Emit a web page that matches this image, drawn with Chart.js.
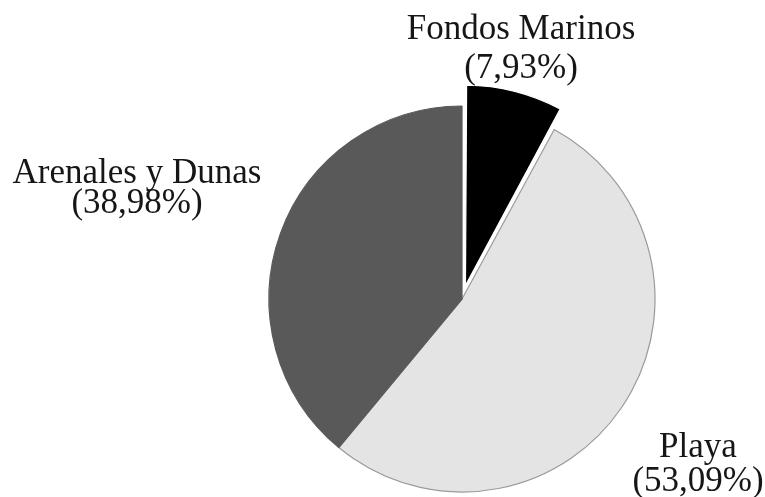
<!DOCTYPE html>
<html>
<head>
<meta charset="utf-8">
<script src="https://cdn.jsdelivr.net/npm/chart.js@4.4.0/dist/chart.umd.min.js"></script>
<style>
  html, body { margin: 0; padding: 0; background: #ffffff; }
  #wrap { width: 765px; height: 497px; position: relative; }
</style>
</head>
<body>
<div id="wrap"><canvas id="c" width="765" height="497"></canvas></div>
<script>
const categories = ["Fondos Marinos", "Playa", "Arenales y Dunas"];
const values = [7.93, 53.09, 38.98];
const sliceColors = ["#000000", "#e4e4e4", "#595959"];
const borderColors = ["#ffffff", "#9a9a9a", "#595959"];
// Chart.js v4 moves an arc by offset/4 pixels
const sliceOffsets = [56, 0, 0];

// label anchor (centre x, baseline of first line, baseline of second line), in px
const labelPos = [
  { x: 521, y1: 39, y2: 78 },
  { x: 698, y1: 457, y2: 491 },
  { x: 137, y1: 183, y2: 213 }
];

const fmt = v => "(" + v.toFixed(2).replace(".", ",") + "%)";

const labelPlugin = {
  id: "pieLabels",
  afterDraw(chart) {
    const ctx = chart.ctx;
    ctx.save();
    ctx.fillStyle = "#161616";
    ctx.font = "35px 'Liberation Serif', 'Times New Roman', serif";
    ctx.textAlign = "center";
    ctx.textBaseline = "alphabetic";
    categories.forEach((name, i) => {
      const p = labelPos[i];
      ctx.fillText(name, p.x, p.y1);
      ctx.fillText(fmt(values[i]), p.x, p.y2);
    });
    ctx.restore();
  }
};

new Chart(document.getElementById("c"), {
  type: "pie",
  data: {
    labels: categories,
    datasets: [{
      data: values,
      backgroundColor: sliceColors,
      borderColor: borderColors,
      borderWidth: 1.2,
      offset: sliceOffsets,
      radius: 193
    }]
  },
  options: {
    responsive: false,
    animation: false,
    devicePixelRatio: 1,
    layout: { padding: { left: 159, right: 0, top: 101, bottom: 0 } },
    plugins: {
      legend: { display: false },
      tooltip: { enabled: false }
    }
  },
  plugins: [labelPlugin]
});
</script>
</body>
</html>
